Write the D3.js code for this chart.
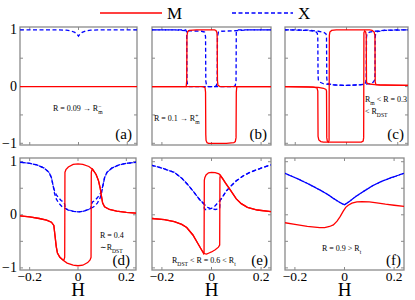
<!DOCTYPE html>
<html>
<head>
<meta charset="utf-8">
<script src="https://cdn.jsdelivr.net/npm/d3@7"></script>
<style>
body{margin:0;background:#fff;}
text{font-family:"Liberation Serif","DejaVu Serif",serif;fill:#000;}
</style>
</head>
<body>
<svg id="output" width="415" height="300"></svg>
<script>
// tick values + labels
const hTicks = [-0.2, 0, 0.2];
const hTickLabels = ["\u22120.2", "0", "0.2"];
const yTicks = [-1, -0.5, 0, 0.5, 1];
const yLabelValues = [1, 0, -1];
const yTickLabels = ["1", "0", "\u22121"];
const panelLetters = ["(a)", "(b)", "(c)", "(d)", "(e)", "(f)"];
const legendNames = ["M", "X"];

// every curve is [H, value], "up" = H sweeping up, "down" = H sweeping down
// (a) R = 0.09
const mA = [[-0.24,0],[-0.1,0],[0,0],[0.1,0],[0.24,0]];
const xA = [[-0.24,1],[-0.1,1],[-0.05,0.995],[-0.03,0.98],[-0.015,0.955],[-0.005,0.92],[0,0.89],[0.005,0.92],[0.015,0.955],[0.03,0.98],[0.05,0.995],[0.1,1],[0.24,1]];

// (b) R = 0.1
const mUpB = [[-0.24,0],[-0.102,0],[-0.1,0.1],[-0.099,0.9],[-0.096,0.97],[-0.09,0.99],[-0.06,1],[0.012,1],[0.018,0.99],[0.022,0.95],[0.023,0.85],[0.024,0.1],[0.026,0.02],[0.034,0],[0.24,0]];
const mDownB = [[0.24,0],[0.102,0],[0.1,-0.1],[0.099,-0.9],[0.096,-0.97],[0.09,-0.99],[0.06,-1],[-0.012,-1],[-0.018,-0.99],[-0.022,-0.95],[-0.023,-0.85],[-0.024,-0.1],[-0.026,-0.02],[-0.034,0],[-0.24,0]];
const xUpB = [[-0.24,1],[-0.104,1],[-0.1,0.96],[-0.099,0.1],[-0.096,0.02],[-0.09,0],[0.014,0],[0.02,0.02],[0.023,0.1],[0.024,0.88],[0.028,0.96],[0.04,0.975],[0.1,0.985],[0.15,1],[0.24,1]];
const xDownB = [[0.24,1],[0.104,1],[0.1,0.96],[0.099,0.1],[0.096,0.02],[0.09,0],[-0.014,0],[-0.02,0.02],[-0.023,0.1],[-0.024,0.88],[-0.028,0.96],[-0.04,0.975],[-0.1,0.985],[-0.15,1],[-0.24,1]];

// (c) R = 0.3
const mUpC = [[-0.24,0],[-0.15,-0.005],[-0.11,-0.015],[-0.09,-0.03],[-0.08,-0.05],[-0.078,-0.08],[-0.077,-0.9],[-0.075,-0.96],[-0.071,-0.98],[-0.068,-0.95],[-0.067,0.9],[-0.065,0.96],[-0.058,0.99],[-0.04,1],[0.09,1],[0.1,0.99],[0.108,0.96],[0.111,0.9],[0.112,0.08],[0.115,0.035],[0.13,0.025],[0.24,0.02]];
const mDownC = [[0.24,0.02],[0.15,0.03],[0.11,0.035],[0.09,0.045],[0.08,0.06],[0.078,0.09],[0.077,0.9],[0.075,0.96],[0.071,0.98],[0.068,0.95],[0.067,-0.9],[0.065,-0.96],[0.058,-0.98],[0.04,-0.98],[-0.09,-0.98],[-0.1,-0.97],[-0.108,-0.94],[-0.111,-0.88],[-0.112,-0.08],[-0.115,-0.025],[-0.13,-0.01],[-0.24,0]];
const xUpC = [[-0.24,1],[-0.15,0.995],[-0.11,0.975],[-0.09,0.96],[-0.08,0.93],[-0.078,0.87],[-0.077,0.15],[-0.075,0.07],[-0.07,0.045],[-0.05,0.03],[0,0.02],[0.05,0.03],[0.09,0.05],[0.105,0.08],[0.11,0.12],[0.111,0.2],[0.112,0.87],[0.114,0.94],[0.12,0.97],[0.15,0.99],[0.24,1]];
const xDownC = [[0.24,1],[0.15,0.995],[0.11,0.975],[0.09,0.96],[0.08,0.93],[0.078,0.87],[0.077,0.15],[0.075,0.07],[0.07,0.045],[0.05,0.03],[0,0.02],[-0.05,0.03],[-0.09,0.05],[-0.105,0.08],[-0.11,0.12],[-0.111,0.2],[-0.112,0.87],[-0.114,0.94],[-0.12,0.97],[-0.15,0.99],[-0.24,1]];

// (d) R = 0.4
const mUpD = [[-0.24,-0.02],[-0.2,-0.04],[-0.16,-0.07],[-0.13,-0.1],[-0.11,-0.14],[-0.1,-0.2],[-0.095,-0.4],[-0.09,-0.6],[-0.085,-0.72],[-0.075,-0.8],[-0.06,-0.86],[-0.045,-0.91],[-0.02,-0.95],[0,-0.96],[0.02,-0.95],[0.04,-0.9],[0.05,-0.85],[0.054,-0.8],[0.055,0.8],[0.058,0.85],[0.06,0.86],[0.075,0.76],[0.085,0.64],[0.092,0.5],[0.097,0.35],[0.102,0.22],[0.11,0.15],[0.13,0.1],[0.16,0.07],[0.2,0.045],[0.24,0.03]];
const mDownD = [[0.24,0.03],[0.2,0.045],[0.16,0.07],[0.13,0.1],[0.11,0.15],[0.102,0.22],[0.097,0.35],[0.092,0.5],[0.085,0.64],[0.075,0.76],[0.06,0.86],[0.045,0.91],[0.02,0.95],[0,0.96],[-0.02,0.95],[-0.04,0.9],[-0.05,0.85],[-0.054,0.8],[-0.055,-0.8],[-0.058,-0.85],[-0.06,-0.86],[-0.075,-0.8],[-0.085,-0.72],[-0.09,-0.6],[-0.095,-0.4],[-0.1,-0.2],[-0.11,-0.14],[-0.13,-0.1],[-0.16,-0.07],[-0.2,-0.04],[-0.24,-0.02]];
const xUpD = [[-0.24,0.99],[-0.2,0.97],[-0.17,0.94],[-0.14,0.88],[-0.12,0.8],[-0.11,0.7],[-0.103,0.55],[-0.097,0.4],[-0.09,0.3],[-0.08,0.22],[-0.065,0.15],[-0.045,0.1],[-0.02,0.065],[0,0.055],[0.02,0.065],[0.04,0.09],[0.053,0.12],[0.055,0.2],[0.06,0.24],[0.07,0.27],[0.08,0.32],[0.09,0.38],[0.097,0.45],[0.103,0.55],[0.11,0.7],[0.12,0.8],[0.14,0.88],[0.17,0.94],[0.2,0.97],[0.24,0.99]];
const xDownD = [[0.24,0.99],[0.2,0.97],[0.17,0.94],[0.14,0.88],[0.12,0.8],[0.11,0.7],[0.103,0.55],[0.097,0.4],[0.09,0.3],[0.08,0.22],[0.065,0.15],[0.045,0.1],[0.02,0.065],[0,0.055],[-0.02,0.065],[-0.04,0.09],[-0.053,0.12],[-0.055,0.2],[-0.06,0.24],[-0.07,0.27],[-0.08,0.32],[-0.09,0.38],[-0.097,0.45],[-0.103,0.55],[-0.11,0.7],[-0.12,0.8],[-0.14,0.88],[-0.17,0.94],[-0.2,0.97],[-0.24,0.99]];

// (e) R = 0.6
const mUpE = [[-0.24,-0.07],[-0.19,-0.09],[-0.15,-0.13],[-0.12,-0.18],[-0.1,-0.24],[-0.075,-0.38],[-0.055,-0.54],[-0.045,-0.62],[-0.035,-0.7],[-0.028,-0.73],[-0.02,-0.74],[-0.01,-0.72],[0,-0.7],[0.015,-0.66],[0.028,-0.61],[0.033,-0.57],[0.034,0.7],[0.036,0.74],[0.045,0.68],[0.056,0.6],[0.077,0.46],[0.1,0.3],[0.12,0.21],[0.145,0.14],[0.185,0.09],[0.24,0.06]];
const mDownE = [[0.24,0.06],[0.185,0.09],[0.145,0.14],[0.12,0.21],[0.1,0.3],[0.077,0.46],[0.056,0.6],[0.045,0.68],[0.036,0.74],[0.03,0.77],[0.015,0.795],[0,0.8],[-0.012,0.79],[-0.022,0.75],[-0.027,0.7],[-0.029,0.65],[-0.03,-0.7],[-0.032,-0.73],[-0.035,-0.7],[-0.045,-0.62],[-0.055,-0.54],[-0.075,-0.38],[-0.1,-0.24],[-0.12,-0.18],[-0.15,-0.13],[-0.19,-0.09],[-0.24,-0.07]];
const xUpE = [[-0.24,0.93],[-0.2,0.88],[-0.15,0.8],[-0.12,0.69],[-0.098,0.58],[-0.08,0.48],[-0.065,0.39],[-0.045,0.27],[-0.03,0.2],[-0.015,0.14],[0,0.11],[0.015,0.1],[0.028,0.11],[0.033,0.13],[0.035,0.27],[0.045,0.34],[0.06,0.45],[0.08,0.55],[0.1,0.64],[0.13,0.74],[0.155,0.8],[0.2,0.88],[0.24,0.94]];
const xDownE = [[0.24,0.94],[0.2,0.88],[0.155,0.8],[0.13,0.74],[0.1,0.64],[0.08,0.55],[0.06,0.45],[0.045,0.34],[0.03,0.25],[0.015,0.17],[0,0.12],[-0.015,0.1],[-0.025,0.1],[-0.029,0.12],[-0.031,0.22],[-0.035,0.23],[-0.045,0.27],[-0.065,0.39],[-0.08,0.48],[-0.098,0.58],[-0.12,0.69],[-0.15,0.8],[-0.2,0.88],[-0.24,0.93]];

// (f) R = 0.9, no loop
const mF = [[-0.24,-0.15],[-0.2,-0.18],[-0.15,-0.22],[-0.1,-0.24],[-0.08,-0.24],[-0.06,-0.22],[-0.045,-0.19],[-0.03,-0.12],[-0.017,-0.03],[-0.005,0.07],[0.005,0.14],[0.015,0.18],[0.03,0.22],[0.05,0.245],[0.07,0.25],[0.1,0.245],[0.13,0.225],[0.165,0.2],[0.2,0.18],[0.24,0.16]];
const xF = [[-0.24,0.78],[-0.19,0.68],[-0.145,0.58],[-0.1,0.47],[-0.07,0.39],[-0.045,0.31],[-0.025,0.25],[-0.01,0.21],[0,0.19],[0.01,0.22],[0.025,0.27],[0.047,0.35],[0.08,0.45],[0.114,0.55],[0.15,0.63],[0.188,0.7],[0.24,0.78]];

// annotation texts: [text, "sub"/"sup"]
const noteA = [[["R = 0.09 \u2192 R"],["m","sub"],["\u2212","sup"]]];
const noteB = [[["R = 0.1 \u2192 R"],["m","sub"],["+","sup"]]];
const noteC = [[["R"],["m","sub"],[" < R = 0.3"]], [["< R"],["DST","sub"]]];
const noteD = [[["R = 0.4"]], [["\u223CR"],["DST","sub"]]];
const noteE = [[["R"],["DST","sub"],[" < R = 0.6 < R"],["t","sub"]]];
const noteF = [[["R = 0.9 > R"],["t","sub"]]];

const width = 415, height = 300;
const red = "#ff0000", blue = "#0000ff", frameCol = "#8a8a8a";

// box positions [left, right, top, bottom]
const boxes = [[20,137,27,145],[152,271,27,145],[285,408,27,145],[20,136,158,270],[152,271,158,270],[285,404,158,270]];
const yDomains = [[-1.03,1.05],[-1.03,1.05],[-1.03,1.05],[-1.04,1.07],[-1.04,1.07],[-1.04,1.07]];
const notePos = [[53,111],[154,121],[365,102],[100,238],[172,263],[322,251]];
const letterPos = [[132,139],[267,139],[404,139],[130,265],[268,265],[401,265]];

const panels = [
  {m:[mA], x:[xA], note:noteA},
  {m:[mUpB,mDownB], x:[xUpB,xDownB], note:noteB},
  {m:[mUpC,mDownC], x:[xUpC,xDownC], note:noteC},
  {m:[mUpD,mDownD], x:[xUpD,xDownD], note:noteD},
  {m:[mUpE,mDownE], x:[xUpE,xDownE], note:noteE},
  {m:[mF], x:[xF,xF], note:noteF}
];

const svg = d3.select("#output");
svg.append("rect").attr("width", width).attr("height", height).attr("fill", "#fff");

function addNote(g, x, y, lines, size){
  lines.forEach(function(parts, li){
    const t = g.append("text").attr("x", x).attr("y", y + li*12).attr("font-size", size);
    let cur = 0, lastSub = null;
    parts.forEach(function(p){
      const kind = p[1] || "n";
      const target = kind == "sub" ? size*0.35 : (kind == "sup" ? -size*0.4 : 0);
      const s = t.append("tspan").text(p[0]).attr("dy", target - cur);
      if(kind != "n") s.attr("font-size", size*0.7);
      // stack superscript over the subscript before it
      if(kind == "sup" && lastSub) s.attr("dx", -lastSub.node().getComputedTextLength());
      lastSub = kind == "sub" ? s : null;
      cur = target;
    });
  });
}

panels.forEach(function(p, i){
  const b = boxes[i];
  const xScale = d3.scaleLinear().domain([-0.24, 0.24]).range([b[0], b[1]]);
  const yScale = d3.scaleLinear().domain(yDomains[i]).range([b[3], b[2]]);
  const g = svg.append("g");

  g.append("clipPath").attr("id", "clip" + i)
    .append("rect").attr("x", b[0]).attr("y", b[2]).attr("width", b[1]-b[0]).attr("height", b[3]-b[2]);

  // frame + inner ticks
  g.append("rect").attr("x", b[0]).attr("y", b[2]).attr("width", b[1]-b[0]).attr("height", b[3]-b[2])
    .attr("fill", "none").attr("stroke", frameCol).attr("stroke-width", 1.3);
  g.selectAll(".xt").data(hTicks).enter().append("path")
    .attr("d", d => "M" + xScale(d) + "," + b[3] + "v-3M" + xScale(d) + "," + b[2] + "v3")
    .attr("stroke", frameCol).attr("stroke-width", 1);
  g.selectAll(".yt").data(yTicks).enter().append("path")
    .attr("d", d => "M" + b[0] + "," + yScale(d) + "h3M" + b[1] + "," + yScale(d) + "h-3")
    .attr("stroke", frameCol).attr("stroke-width", 1);

  const line = d3.line().x(d => xScale(d[0])).y(d => yScale(d[1]));
  const curves = g.append("g").attr("clip-path", "url(#clip" + i + ")");

  // X dashed; second branch shifted so overlapping parts look solid
  curves.selectAll(".xc").data(p.x).enter().append("path")
    .attr("d", line).attr("fill", "none").attr("stroke", blue).attr("stroke-width", 1.3)
    .attr("stroke-dasharray", "4,2.5").attr("stroke-dashoffset", (d, k) => k * 3.25);
  curves.selectAll(".mc").data(p.m).enter().append("path")
    .attr("d", line).attr("fill", "none").attr("stroke", red).attr("stroke-width", 1.3);

  addNote(g, notePos[i][0], notePos[i][1], p.note, 8);

  g.append("text").attr("x", letterPos[i][0]).attr("y", letterPos[i][1])
    .attr("text-anchor", "end").attr("font-size", 15).text(panelLetters[i]);

  if(i % 3 == 0){
    g.selectAll(".yl").data(yLabelValues).enter().append("text")
      .attr("x", b[0] - 3).attr("y", d => yScale(d) + 4.5)
      .attr("text-anchor", "end").attr("font-size", 14)
      .text((d, k) => yTickLabels[k]);
  }
  if(i >= 3){
    g.selectAll(".xl").data(hTicks).enter().append("text")
      .attr("x", d => xScale(d)).attr("y", 281)
      .attr("text-anchor", "middle").attr("font-size", 13.5)
      .text((d, k) => hTickLabels[k]);
    g.append("text").attr("x", xScale(0)).attr("y", 295.5)
      .attr("text-anchor", "middle").attr("font-size", 19).text("H");
  }
});

// legend on top
const legend = svg.append("g");
legend.append("line").attr("x1", 100).attr("x2", 162).attr("y1", 13).attr("y2", 13)
  .attr("stroke", red).attr("stroke-width", 1.3);
legend.append("text").attr("x", 167).attr("y", 19).attr("font-size", 17).text(legendNames[0]);
legend.append("line").attr("x1", 232).attr("x2", 293).attr("y1", 13).attr("y2", 13)
  .attr("stroke", blue).attr("stroke-width", 1.3).attr("stroke-dasharray", "4,2.5");
legend.append("text").attr("x", 298).attr("y", 19).attr("font-size", 17).text(legendNames[1]);
</script>
</body>
</html>
